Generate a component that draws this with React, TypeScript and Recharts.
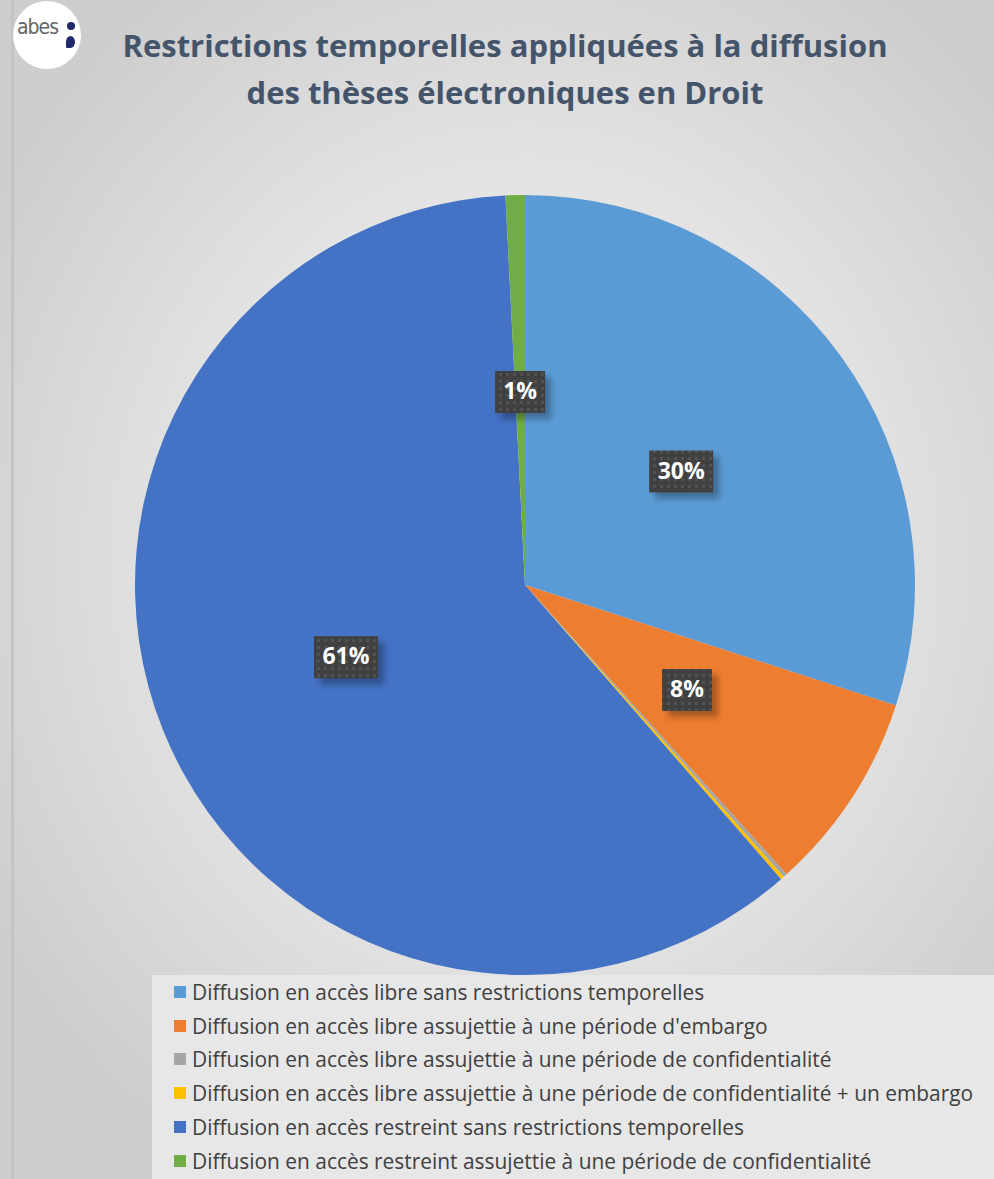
import { PieChart, Pie, Cell, Legend } from "recharts";

const CATEGORIES = [
  "Diffusion en accès libre sans restrictions temporelles",
  "Diffusion en accès libre assujettie à une période d'embargo",
  "Diffusion en accès libre assujettie à une période de confidentialité",
  "Diffusion en accès libre assujettie à une période de confidentialité + un embargo",
  "Diffusion en accès restreint sans restrictions temporelles",
  "Diffusion en accès restreint assujettie à une période de confidentialité",
];
const SHARES = [30.0, 8.3, 0.15, 0.15, 60.6, 0.8];
const COLORS = ["#5B9BD5", "#ED7D31", "#A5A5A5", "#FFC000", "#4472C4", "#70AD47"];
const TITLE = ["Restrictions temporelles appliquées à la diffusion", "des thèses électroniques en Droit"];

const data = CATEGORIES.map((name, i) => ({ name, value: SHARES[i] }));

const RAD = Math.PI / 180;

function renderLabel(props: any) {
  const { cx, cy, midAngle, outerRadius, percent, index } = props;
  if (percent < 0.005) return null;
  const r = outerRadius * 0.495;
  const x = cx + r * Math.cos(-midAngle * RAD);
  const y = cy + r * Math.sin(-midAngle * RAD);
  const text = `${Math.round(percent * 100)}%`;
  const w = text.length === 2 ? 50 : 64;
  const h = 42;
  const pid = `dots-${index}`;
  const fid = `shadow-${index}`;
  return (
    <g>
      <defs>
        <pattern id={pid} width="7" height="7" patternUnits="userSpaceOnUse">
          <rect width="7" height="7" fill="#404040" />
          <rect x="2" y="2" width="3" height="3" fill="#525252" />
        </pattern>
        <filter id={fid} x="-30%" y="-30%" width="160%" height="160%">
          <feGaussianBlur stdDeviation="3" />
        </filter>
      </defs>
      <rect x={x - w / 2 + 6} y={y - h / 2 + 6} width={w} height={h} fill="rgba(0,0,0,0.3)" filter={`url(#${fid})`} />
      <rect x={x - w / 2} y={y - h / 2} width={w} height={h} fill={`url(#${pid})`} />
      <text
        x={x}
        y={y + 1}
        fill="#ffffff"
        textAnchor="middle"
        dominantBaseline="middle"
        style={{ fontFamily: "'Open Sans', sans-serif", fontWeight: 700, fontSize: 23 }}
      >
        {text}
      </text>
    </g>
  );
}

function LegendBox() {
  return (
    <div
      style={{
        background: "#e7e7e7",
        width: 842,
        height: 204,
        boxSizing: "border-box",
        paddingTop: 0,
        paddingLeft: 22,
      }}
    >
      {CATEGORIES.map((c, i) => (
        <div key={c} style={{ display: "flex", alignItems: "center", height: 33.8 }}>
          <span style={{ width: 12, height: 12, background: COLORS[i], marginRight: 6, flexShrink: 0 }} />
          <span
            style={{
              fontFamily: "'Open Sans', sans-serif",
              fontSize: 20.9,
              color: "#404040",
              whiteSpace: "nowrap",
            }}
          >
            {c}
          </span>
        </div>
      ))}
    </div>
  );
}

export default function App() {
  return (
    <div
      style={{
        position: "relative",
        width: 994,
        height: 1179,
        overflow: "hidden",
        background: "radial-gradient(ellipse 620px 700px at 525px 560px, #f0f0f0 0%, #e3e3e3 55%, #cdcdcd 100%)",
      }}
    >
      <style>{`body{margin:0}`}</style>
      <div style={{ position: "absolute", left: 11, top: 0, width: 3, height: 1179, background: "#c4c4c4" }} />
      <div
        style={{
          position: "absolute",
          left: 13,
          top: 1,
          width: 68,
          height: 68,
          borderRadius: "50%",
          background: "#ffffff",
        }}
      >
        <span
          style={{
            position: "absolute",
            left: 4,
            top: 14,
            fontFamily: "'DejaVu Sans Condensed', 'Liberation Sans', sans-serif",
            fontSize: 21,
            letterSpacing: -1,
            color: "#666666",
          }}
        >
          abes
        </span>
        <span style={{ position: "absolute", left: 54, top: 21, width: 8, height: 8, borderRadius: "50%", background: "#1f2a6b" }} />
        <span style={{ position: "absolute", left: 53, top: 35, width: 9, height: 12, borderRadius: "50% 50% 50% 10%", background: "#1f2a6b" }} />
      </div>
      <div
        style={{
          position: "absolute",
          left: 0,
          top: 22,
          width: 1010,
          textAlign: "center",
          fontFamily: "'Open Sans', sans-serif",
          fontWeight: 700,
          fontSize: 31,
          lineHeight: "47px",
          color: "#44546A",
        }}
      >
        {TITLE.map((t) => (
          <div key={t}>{t}</div>
        ))}
      </div>
      <div style={{ position: "absolute", left: 0, top: 0 }}>
        <PieChart width={994} height={1179} margin={{ top: 0, right: 0, bottom: 0, left: 0 }}>
          <Pie
            data={data}
            dataKey="value"
            nameKey="name"
            cx={525}
            cy={585}
            outerRadius={390}
            startAngle={90}
            endAngle={-270}
            stroke="none"
            label={renderLabel}
            labelLine={false}
            isAnimationActive={false}
          >
            {data.map((d, i) => (
              <Cell key={d.name} fill={COLORS[i]} />
            ))}
          </Pie>
          <Legend
            content={() => <LegendBox />}
            wrapperStyle={{ position: "absolute", left: 152, top: 975, width: 842, height: 204 }}
          />
        </PieChart>
      </div>
    </div>
  );
}
